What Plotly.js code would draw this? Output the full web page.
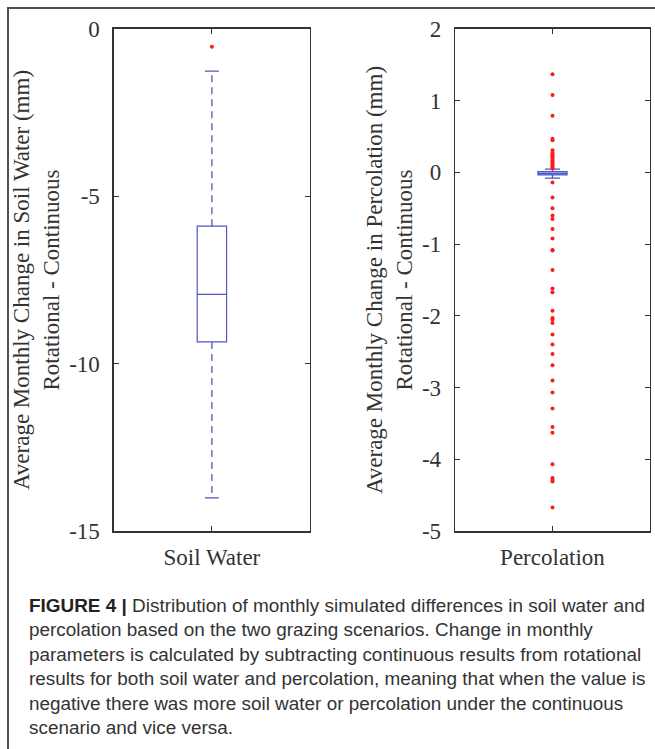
<!DOCTYPE html>
<html>
<head>
<meta charset="utf-8">
<script src="https://cdn.plot.ly/plotly-3.0.1.min.js"></script>
<style>
  html, body { margin:0; padding:0; background:#fff; }
  #wrap { position:relative; width:655px; height:749px; overflow:hidden; }
  #chart { position:absolute; left:0; top:0; width:655px; height:749px; }
  #frameTop { position:absolute; left:8px; top:7px; width:647px; height:2px; background:#505050; }
  #frameLeft { position:absolute; left:7px; top:7px; width:2px; height:742px; background:#505050; }
  #cap { position:absolute; left:29px; top:594px; font-family:'Liberation Sans Narrow','Liberation Sans',Arial,sans-serif;
         font-size:17.5px; line-height:24.4px; color:#333; white-space:nowrap; transform-origin:0 0; }
  #cap b { font-weight:bold; color:#222; }
</style>
</head>
<body>
<div id="wrap">
  <div id="chart"></div>
  <div id="frameTop"></div>
  <div id="frameLeft"></div>
  <div id="cap"><span id="line1"><b>FIGURE 4 |</b> Distribution of monthly simulated differences in soil water and</span><br>percolation based on the two grazing scenarios. Change in monthly<br>parameters is calculated by subtracting continuous results from rotational<br>results for both soil water and percolation, meaning that when the value is<br>negative there was more soil water or percolation under the continuous<br>scenario and vice versa.</div>
</div>
<script>
// ---- data ----
const categories = ['Soil Water', 'Percolation'];
const q1 = [-9.35, -0.035];
const median = [-7.93, -0.015];
const q3 = [-5.89, 0.01];
const lowerFence = [-14.01, -0.08];
const upperFence = [-1.26, 0.045];
const soilWaterOutliers = [-0.53];
const percolationOutliers = [1.37, 1.08, 0.79, 0.47, 0.45, 0.31, 0.27, 0.25, 0.23, 0.21, 0.19, 0.17, 0.15, 0.13, 0.11, 0.09, 0.07, 0.06,
  -0.14, -0.35, -0.50, -0.60, -0.65, -0.79, -0.92, -1.08, -1.09, -1.36, -1.62, -1.67, -1.93, -2.03, -2.05, -2.10, -2.26, -2.40,
  -2.53, -2.69, -2.90, -3.07, -3.29, -3.55, -3.63, -4.07, -4.26, -4.29, -4.31, -4.67];
const soilWaterTickVals = [0, -5, -10, -15];
const soilWaterTickText = ['0', '-5', '-10', '-15'];
const percolationTickVals = [2, 1, 0, -1, -2, -3, -4, -5];
const percolationTickText = ['2', '1', '0', '-1', '-2', '-3', '-4', '-5'];
const yTitles = ['Average Monthly Change in Soil Water (mm)<br>Rotational - Continuous',
                 'Average Monthly Change in Percolation (mm)<br>Rotational - Continuous'];
const yRanges = [[-15, 0], [-5, 2]];

// ---- styles ----
const blue = '#4f55c6';
const red = '#ff1a1a';
const axisColor = '#333333';
const serif = 'Liberation Serif, Times New Roman, serif';
const outliers = [soilWaterOutliers, percolationOutliers];
const tickVals = [soilWaterTickVals, percolationTickVals];
const tickText = [soilWaterTickText, percolationTickText];
const boxFill = ['rgba(0,0,0,0)', 'rgba(175,175,235,0.85)'];
const boxLineW = [1.2, 1.2];
const capSize = [10, 10.7];

const traces = [];
categories.forEach((cat, i) => {
  const xa = i === 0 ? 'x' : 'x2';
  const ya = i === 0 ? 'y' : 'y2';
  traces.push({type:'scatter', mode:'lines', x:[cat, cat], y:[q3[i], upperFence[i]], xaxis:xa, yaxis:ya,
    line:{color:blue, width:1.3, dash:'7px,5px'}, hoverinfo:'skip', showlegend:false});
  traces.push({type:'scatter', mode:'lines', x:[cat, cat], y:[q1[i], lowerFence[i]], xaxis:xa, yaxis:ya,
    line:{color:blue, width:1.3, dash:'7px,5px'}, hoverinfo:'skip', showlegend:false});
  traces.push({type:'scatter', mode:'markers', x:[cat, cat], y:[lowerFence[i], upperFence[i]], xaxis:xa, yaxis:ya,
    marker:{symbol:'line-ew', size:capSize[i], color:blue, line:{color:blue, width:1.3}}, hoverinfo:'skip', showlegend:false});
  traces.push({type:'box', x:[cat], q1:[q1[i]], median:[median[i]], q3:[q3[i]],
    lowerfence:[q1[i]], upperfence:[q3[i]], xaxis:xa, yaxis:ya, width:0.15, whiskerwidth:0,
    boxpoints:false, fillcolor:boxFill[i], line:{color:blue, width:boxLineW[i]}, hoverinfo:'skip', showlegend:false});
  traces.push({type:'scatter', mode:'markers', x:outliers[i].map(() => cat), y:outliers[i], xaxis:xa, yaxis:ya,
    marker:{symbol:'circle', size:4, color:red}, hoverinfo:'skip', showlegend:false});
});

function xAxis(domain, anchor) {
  return {domain:domain, anchor:anchor, type:'category', range:[-0.5, 0.5], ticks:'inside', ticklen:5, tickwidth:1,
    tickcolor:axisColor, showline:true, linecolor:axisColor, linewidth:1.5, mirror:'ticks', showgrid:false, zeroline:false,
    tickfont:{family:serif, size:23, color:axisColor}, ticklabelstandoff:5, fixedrange:true};
}
function yAxis(i, anchor) {
  return {domain:[0.291, 0.9613], anchor:anchor, range:yRanges[i], tickmode:'array', tickvals:tickVals[i], ticktext:tickText[i],
    ticks:'inside', ticklen:5, tickwidth:1,
    tickcolor:axisColor, showline:true, linecolor:axisColor, linewidth:1.5, mirror:'ticks', showgrid:false, zeroline:false,
    tickfont:{family:serif, size:23, color:axisColor}, ticklabelstandoff:8, fixedrange:true,
    title:{text:yTitles[i], font:{family:serif, size:23, color:axisColor}, standoff:3}};
}

const layout = {
  width:655, height:749, margin:{l:0, r:0, t:0, b:0}, paper_bgcolor:'#fff', plot_bgcolor:'#fff', showlegend:false,
  xaxis: xAxis([0.174, 0.473], 'y'),
  yaxis: yAxis(0, 'x'),
  xaxis2: xAxis([0.695, 0.992], 'y2'),
  yaxis2: yAxis(1, 'x2')
};

Plotly.newPlot('chart', traces, layout, {displayModeBar:false, staticPlot:true});

const l1 = document.getElementById('line1');
const w = l1.getBoundingClientRect().width;
document.getElementById('cap').style.transform = 'scaleX(' + (616 / w) + ')';
</script>
</body>
</html>
